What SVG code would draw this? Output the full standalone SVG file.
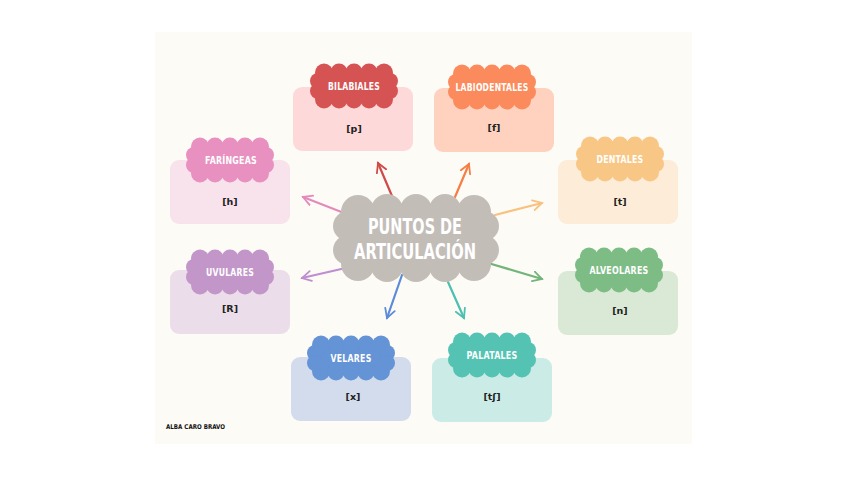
<svg xmlns="http://www.w3.org/2000/svg" xmlns:xlink="http://www.w3.org/1999/xlink" width="848" height="477" viewBox="0 0 848 477">
<defs>
<style>
.lbl{font-family:"DejaVu Sans Condensed","DejaVu Sans",sans-serif;font-weight:bold;font-size:11px;fill:#ffffff;text-anchor:middle;dominant-baseline:central;letter-spacing:0.3px}
.ph{font-family:"DejaVu Sans","Liberation Sans",sans-serif;font-weight:bold;font-size:9.5px;fill:#222222;text-anchor:middle;dominant-baseline:central}
.title{font-family:"DejaVu Sans Condensed","DejaVu Sans",sans-serif;font-weight:bold;font-size:22px;fill:#ffffff;text-anchor:middle}
.conn line{stroke-width:2.2;stroke-linecap:round;fill:none}
</style>
<g id="cloud">
<rect x="-37" y="-15" width="74" height="30"/>
<circle cx="-30" cy="-13.5" r="9"/><circle cx="-15" cy="-14" r="8.5"/><circle cx="0" cy="-14" r="8.5"/><circle cx="15" cy="-14" r="8.5"/><circle cx="30" cy="-13.5" r="9"/>
<circle cx="-30" cy="13.5" r="9"/><circle cx="-15" cy="14" r="8.5"/><circle cx="0" cy="14" r="8.5"/><circle cx="15" cy="14" r="8.5"/><circle cx="30" cy="13.5" r="9"/>
<circle cx="-36" cy="-5" r="8"/><circle cx="-36" cy="5" r="8"/><circle cx="36" cy="-5" r="8"/><circle cx="36" cy="5" r="8"/>
</g>
<marker id="mr" viewBox="0 0 12 12" refX="10" refY="6" markerWidth="12" markerHeight="12" markerUnits="userSpaceOnUse" orient="auto"><path d="M1,1 L10,6 L1,11" fill="none" stroke="#d04a4a" stroke-width="1.8" stroke-linecap="round"/></marker>
<marker id="mo" viewBox="0 0 12 12" refX="10" refY="6" markerWidth="12" markerHeight="12" markerUnits="userSpaceOnUse" orient="auto"><path d="M1,1 L10,6 L1,11" fill="none" stroke="#f57e45" stroke-width="1.8" stroke-linecap="round"/></marker>
<marker id="mp" viewBox="0 0 12 12" refX="10" refY="6" markerWidth="12" markerHeight="12" markerUnits="userSpaceOnUse" orient="auto"><path d="M1,1 L10,6 L1,11" fill="none" stroke="#e48abb" stroke-width="1.8" stroke-linecap="round"/></marker>
<marker id="my" viewBox="0 0 12 12" refX="10" refY="6" markerWidth="12" markerHeight="12" markerUnits="userSpaceOnUse" orient="auto"><path d="M1,1 L10,6 L1,11" fill="none" stroke="#f8c27e" stroke-width="1.8" stroke-linecap="round"/></marker>
<marker id="mu" viewBox="0 0 12 12" refX="10" refY="6" markerWidth="12" markerHeight="12" markerUnits="userSpaceOnUse" orient="auto"><path d="M1,1 L10,6 L1,11" fill="none" stroke="#bf8ed0" stroke-width="1.8" stroke-linecap="round"/></marker>
<marker id="mg" viewBox="0 0 12 12" refX="10" refY="6" markerWidth="12" markerHeight="12" markerUnits="userSpaceOnUse" orient="auto"><path d="M1,1 L10,6 L1,11" fill="none" stroke="#73b47a" stroke-width="1.8" stroke-linecap="round"/></marker>
<marker id="mb" viewBox="0 0 12 12" refX="10" refY="6" markerWidth="12" markerHeight="12" markerUnits="userSpaceOnUse" orient="auto"><path d="M1,1 L10,6 L1,11" fill="none" stroke="#5b8bd9" stroke-width="1.8" stroke-linecap="round"/></marker>
<marker id="mt" viewBox="0 0 12 12" refX="10" refY="6" markerWidth="12" markerHeight="12" markerUnits="userSpaceOnUse" orient="auto"><path d="M1,1 L10,6 L1,11" fill="none" stroke="#4cc0b1" stroke-width="1.8" stroke-linecap="round"/></marker>
</defs>
<rect width="848" height="477" fill="#ffffff"/>
<rect x="155" y="32" width="537" height="412" fill="#fdfbf6"/>

<g class="conn" id="connectors">
<line x1="392" y1="196" x2="378" y2="163" stroke="#d04a4a" marker-end="url(#mr)"/>
<line x1="455" y1="197" x2="469" y2="164" stroke="#f57e45" marker-end="url(#mo)"/>
<line x1="344" y1="213" x2="303" y2="197" stroke="#e48abb" marker-end="url(#mp)"/>
<line x1="495" y1="215" x2="542" y2="203" stroke="#f8c27e" marker-end="url(#my)"/>
<line x1="350" y1="267" x2="302" y2="278" stroke="#bf8ed0" marker-end="url(#mu)"/>
<line x1="488" y1="263" x2="542" y2="279" stroke="#73b47a" marker-end="url(#mg)"/>
<line x1="402" y1="275" x2="387" y2="318" stroke="#5b8bd9" marker-end="url(#mb)"/>
<line x1="448" y1="282" x2="464" y2="318" stroke="#4cc0b1" marker-end="url(#mt)"/>
</g>

<g id="centro">
<g fill="#c3bdb8" transform="translate(416 238)">
<rect x="-68" y="-28" width="136" height="56"/>
<circle cx="-58" cy="-26" r="17"/><circle cx="-29" cy="-28" r="16"/><circle cx="0" cy="-28" r="16"/><circle cx="29" cy="-28" r="16"/><circle cx="58" cy="-26" r="17"/>
<circle cx="-58" cy="26" r="17"/><circle cx="-29" cy="28" r="16"/><circle cx="0" cy="28" r="16"/><circle cx="29" cy="28" r="16"/><circle cx="58" cy="26" r="17"/>
<circle cx="-68" cy="-12" r="15"/><circle cx="-68" cy="12" r="15"/><circle cx="68" cy="-12" r="15"/><circle cx="68" cy="12" r="15"/>
</g>
<text class="title" x="415" y="234" textLength="94" lengthAdjust="spacingAndGlyphs">PUNTOS DE</text>
<text class="title" x="415" y="259" textLength="122" lengthAdjust="spacingAndGlyphs">ARTICULACIÓN</text>
</g>

<g id="bilabiales">
<rect x="293" y="87" width="120" height="64" rx="9" fill="#fdd9d9"/>
<use xlink:href="#cloud" href="#cloud" fill="#d65354" transform="translate(354 86)"/>
<text class="lbl" x="354" y="86" textLength="52" lengthAdjust="spacingAndGlyphs">BILABIALES</text>
<text class="ph" x="354" y="128">[p]</text>
</g>

<g id="labiodentales">
<rect x="434" y="88" width="120" height="64" rx="9" fill="#fed2be"/>
<use xlink:href="#cloud" href="#cloud" fill="#fb8b5c" transform="translate(492 87)"/>
<text class="lbl" x="492" y="87" textLength="73" lengthAdjust="spacingAndGlyphs">LABIODENTALES</text>
<text class="ph" x="494" y="127">[f]</text>
</g>

<g id="dentales">
<rect x="558" y="160" width="120" height="64" rx="9" fill="#fdecd8"/>
<use xlink:href="#cloud" href="#cloud" fill="#f8c785" transform="translate(620 159)"/>
<text class="lbl" x="620" y="159" textLength="47" lengthAdjust="spacingAndGlyphs">DENTALES</text>
<text class="ph" x="620" y="201">[t]</text>
</g>

<g id="faringeas">
<rect x="170" y="160" width="120" height="64" rx="9" fill="#f8e2ec"/>
<use xlink:href="#cloud" href="#cloud" fill="#e890bf" transform="translate(230 160)"/>
<text class="lbl" x="231" y="160" textLength="52" lengthAdjust="spacingAndGlyphs">FARÍNGEAS</text>
<text class="ph" x="230" y="201">[h]</text>
</g>

<g id="uvulares">
<rect x="170" y="270" width="120" height="64" rx="9" fill="#ebdde9"/>
<use xlink:href="#cloud" href="#cloud" fill="#c396ca" transform="translate(230 272)"/>
<text class="lbl" x="230" y="272" textLength="48" lengthAdjust="spacingAndGlyphs">UVULARES</text>
<text class="ph" x="230" y="308">[R]</text>
</g>

<g id="alveolares">
<rect x="558" y="271" width="120" height="64" rx="9" fill="#d9e9d6"/>
<use xlink:href="#cloud" href="#cloud" fill="#7dbd85" transform="translate(619 270)"/>
<text class="lbl" x="619" y="270" textLength="59" lengthAdjust="spacingAndGlyphs">ALVEOLARES</text>
<text class="ph" x="620" y="310">[n]</text>
</g>

<g id="velares">
<rect x="291" y="357" width="120" height="64" rx="9" fill="#d2dcec"/>
<use xlink:href="#cloud" href="#cloud" fill="#6493d6" transform="translate(351 358)"/>
<text class="lbl" x="351" y="358" textLength="41" lengthAdjust="spacingAndGlyphs">VELARES</text>
<text class="ph" x="353" y="396">[x]</text>
</g>

<g id="palatales">
<rect x="432" y="358" width="120" height="64" rx="9" fill="#cbece6"/>
<use xlink:href="#cloud" href="#cloud" fill="#55c3b4" transform="translate(492 355)"/>
<text class="lbl" x="492" y="355" textLength="51" lengthAdjust="spacingAndGlyphs">PALATALES</text>
<text class="ph" x="492" y="396">[tʃ]</text>
</g>

<text x="166" y="429" font-family="'DejaVu Sans Condensed','DejaVu Sans',sans-serif" font-weight="bold" font-size="6.5" fill="#111111" textLength="59" lengthAdjust="spacingAndGlyphs">ALBA CARO BRAVO</text>
</svg>
